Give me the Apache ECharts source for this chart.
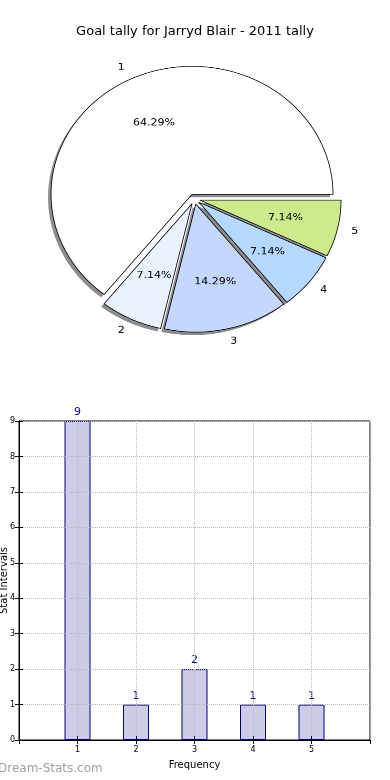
<!DOCTYPE html>
<html>
<head>
<meta charset="utf-8">
<script src="https://cdn.jsdelivr.net/npm/echarts@6/dist/echarts.min.js"></script>
<style>
  html, body { margin: 0; padding: 0; background: #fff; }
  #main { position: absolute; left: 0; top: 0; width: 390px; height: 780px; }
  #pie { position: absolute; left: 0; top: 0; width: 390px; height: 420px;
         transform: scaleY(0.908); transform-origin: 195px 199px; pointer-events: none; }
</style>
</head>
<body>
<div id="main"></div>
<div id="pie"></div>
<script>
// ---- data ----
var titleText = 'Goal tally for Jarryd Blair - 2011 tally';
var categories = ['1', '2', '3', '4', '5'];
var counts = [9, 1, 2, 1, 1];
var pieColors = ['#ffffff', '#ebf2ff', '#c4d8ff', '#b4d8ff', '#cdeb8b'];
var xTickValues = [1, 2, 3, 4, 5];
var yMax = 9;

var font = 'DejaVu Sans';

// ---- main chart (title + bar) ----
var main = echarts.init(document.getElementById('main'), null, { renderer: 'canvas' });
var barData = categories.map(function (c, i) { return [xTickValues[i], counts[i]]; });

main.setOption({
  animation: false,
  backgroundColor: '#fff',
  textStyle: { fontFamily: font },
  title: {
    text: titleText, left: 'center', top: 20,
    textStyle: { fontFamily: font, fontSize: 13, fontWeight: 'normal', color: '#000' }
  },
  graphic: [{
    type: 'text', left: -2, top: 763,
    style: { text: 'Dream-Stats.com', fontFamily: font, fontSize: 12, fontWeight: 'normal', fill: '#a0a0a0' }
  }],
  grid: { left: 19, right: 20, top: 421, bottom: 40, containLabel: false, outerBoundsMode: 'none',
          show: true, borderColor: '#000', borderWidth: 1, backgroundColor: 'transparent' },
  xAxis: [{
    type: 'value', min: 0, max: 6, interval: 1, z: 3,
    name: 'Frequency', nameLocation: 'middle', nameGap: 20, nameMoveOverlap: false,
    nameTextStyle: { fontFamily: font, fontSize: 10, color: '#000' },
    axisLine: { show: true, lineStyle: { color: '#000' } },
    axisTick: { show: true, inside: true, length: 4, lineStyle: { color: '#000' } },
    axisLabel: { fontFamily: font, fontSize: 8, color: '#000', margin: 6, showMinLabel: false, showMaxLabel: false },
    splitLine: { show: true, lineStyle: { color: '#bbb', type: 'dotted', width: 1 } }
  }, {
    type: 'value', position: 'top', min: 0, max: 6, interval: 1, z: 3,
    axisLine: { show: true, lineStyle: { color: '#000' } },
    axisTick: { show: true, inside: true, length: 4, lineStyle: { color: '#000' } },
    axisLabel: { show: false }, splitLine: { show: false }
  }],
  yAxis: [{
    type: 'value', min: 0, max: yMax, interval: 1, z: 3,
    name: 'Stat Intervals', nameLocation: 'middle', nameGap: 10, nameMoveOverlap: false,
    nameTextStyle: { fontFamily: font, fontSize: 10, color: '#000' },
    axisLine: { show: true, lineStyle: { color: '#000' } },
    axisTick: { show: true, inside: true, length: 4, lineStyle: { color: '#000' } },
    axisLabel: { fontFamily: font, fontSize: 8, color: '#000', margin: 4 },
    splitLine: { show: true, lineStyle: { color: '#bbb', type: 'dotted', width: 1 } }
  }, {
    type: 'value', position: 'right', min: 0, max: yMax, interval: 1, z: 3,
    axisLine: { show: true, lineStyle: { color: '#000' } },
    axisTick: { show: true, inside: true, length: 4, lineStyle: { color: '#000' } },
    axisLabel: { show: false }, splitLine: { show: false }
  }],
  series: [{
    type: 'bar', xAxisIndex: 0, yAxisIndex: 0,
    data: barData, barWidth: 26,
    itemStyle: { color: '#ccccE6', borderColor: '#000080', borderWidth: 1 },
    label: { show: true, position: 'top', distance: 3, fontFamily: font, fontSize: 11, color: '#000080' },
    emphasis: { disabled: true }
  }]
});

// ---- pie chart (scaled vertically to an ellipse by CSS) ----
var pie = echarts.init(document.getElementById('pie'), null, { renderer: 'canvas', devicePixelRatio: 2 });
var R = 141;
var explode = 5.7;
var cx = 194.5, cy = 199;
var shadowDx = -3, shadowDy = 3 / 0.908;

var pieData = categories.map(function (c, i) {
  return {
    name: c, value: counts[i], selected: true,
    itemStyle: { color: pieColors[i] },
    select: { itemStyle: { color: pieColors[i] } }
  };
});
var shadowData = categories.map(function (c, i) {
  return { name: c, value: counts[i], selected: true };
});
var pctData = categories.map(function (c, i) {
  return { name: c, value: counts[i], selected: true };
});

pie.setOption({
  animation: false,
  series: [{
    // shadow layer under the wedges
    type: 'pie', center: [cx + shadowDx, cy + shadowDy], radius: [0, R], z: 1,
    startAngle: 0, clockwise: false,
    selectedMode: 'multiple', selectedOffset: explode,
    avoidLabelOverlap: false, silent: true,
    data: shadowData,
    itemStyle: { color: 'rgba(0,0,0,0.45)', borderWidth: 0 },
    select: { itemStyle: { color: 'rgba(0,0,0,0.45)', borderWidth: 0 } },
    label: { show: false }, labelLine: { show: false },
    emphasis: { disabled: true }
  }, {
    type: 'pie', center: [cx, cy], radius: [0, R], z: 2,
    startAngle: 0, clockwise: false,
    selectedMode: 'multiple', selectedOffset: explode,
    avoidLabelOverlap: false, silent: true,
    data: pieData,
    itemStyle: { borderColor: '#000', borderWidth: 0.8 },
    label: { show: true, position: 'outside', formatter: '{b}', fontFamily: font, fontSize: 11, color: '#000', distanceToLabelLine: 0 },
    labelLine: { show: false, length: R * 0.1, length2: 0 },
    emphasis: { disabled: true }
  }, {
    type: 'pie', center: [cx, cy], radius: [0, R * 1.2], z: 3,
    startAngle: 0, clockwise: false,
    selectedMode: 'multiple', selectedOffset: explode,
    avoidLabelOverlap: false, silent: true,
    data: pctData,
    itemStyle: { color: 'rgba(0,0,0,0)', borderWidth: 0 },
    select: { itemStyle: { color: 'rgba(0,0,0,0)', borderWidth: 0 } },
    label: { show: true, position: 'inside', formatter: '{d}%', fontFamily: font, fontSize: 11, color: '#000' },
    labelLine: { show: false },
    emphasis: { disabled: true }
  }]
});
</script>
</body>
</html>
